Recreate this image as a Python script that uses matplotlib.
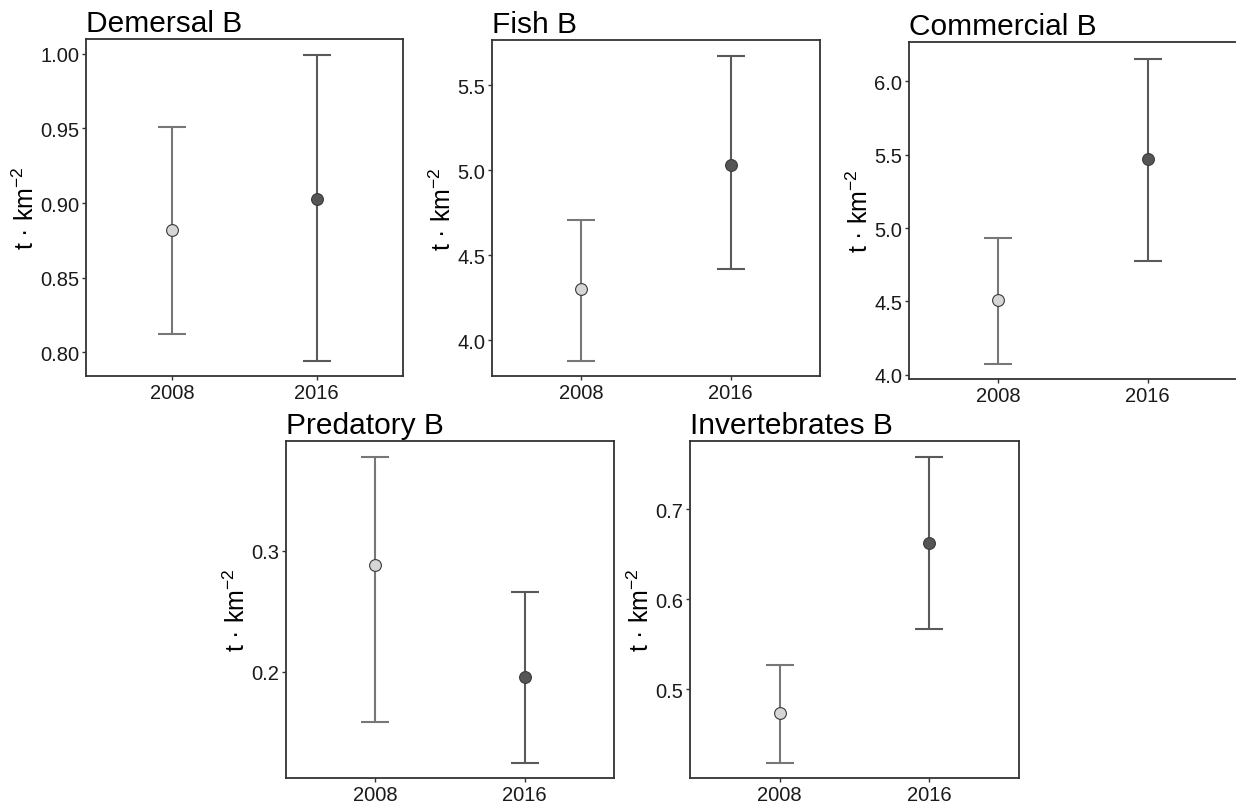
import matplotlib
matplotlib.use('Agg')
import matplotlib.pyplot as plt

plt.rcParams['font.family'] = ['Liberation Sans', 'DejaVu Sans']
plt.rcParams['mathtext.fontset'] = 'custom'
plt.rcParams['mathtext.rm'] = 'Liberation Sans'
plt.rcParams['mathtext.it'] = 'Liberation Sans'

years = ['2008', '2016']

titles = ['Demersal B', 'Fish B', 'Commercial B', 'Predatory B', 'Invertebrates B']

# mean, lower, upper for 2008 and 2016
demersal_mean = [0.882, 0.903]
demersal_low = [0.812, 0.794]
demersal_high = [0.951, 0.999]

fish_mean = [4.30, 5.03]
fish_low = [3.876, 4.416]
fish_high = [4.705, 5.673]

commercial_mean = [4.51, 5.47]
commercial_low = [4.07, 4.778]
commercial_high = [4.93, 6.152]

predatory_mean = [0.288, 0.196]
predatory_low = [0.158, 0.1245]
predatory_high = [0.378, 0.266]

invert_mean = [0.473, 0.662]
invert_low = [0.418, 0.567]
invert_high = [0.527, 0.758]

means = [demersal_mean, fish_mean, commercial_mean, predatory_mean, invert_mean]
lows = [demersal_low, fish_low, commercial_low, predatory_low, invert_low]
highs = [demersal_high, fish_high, commercial_high, predatory_high, invert_high]

yticks = [[0.80, 0.85, 0.90, 0.95, 1.00],
          [4.0, 4.5, 5.0, 5.5],
          [4.0, 4.5, 5.0, 5.5, 6.0],
          [0.2, 0.3],
          [0.5, 0.6, 0.7]]
yfmt = ['%.2f', '%.1f', '%.1f', '%.1f', '%.1f']
ylims = [(0.784, 1.010), (3.788, 5.767), (3.971, 6.268), (0.112, 0.391), (0.401, 0.776)]

# panel boxes in pixels: left, top, right, bottom
W, H = 1236, 803
boxes = [(86, 40, 403, 377),
         (492, 41, 820, 377),
         (909, 43, 1237, 380),
         (286, 442, 614, 779),
         (690, 442, 1019, 779)]

face = ['#d6d6d6', '#555555']
bar_col = ['#777777', '#5a5a5a']

fig = plt.figure(figsize=(12.36, 8.03), dpi=100)

for i in range(5):
    l, t, r, b = boxes[i]
    ax = fig.add_axes([l / W, 1 - b / H, (r - l) / W, (b - t) / H])
    for j in range(2):
        x = j + 1
        m = means[i][j]
        ax.errorbar([x], [m], yerr=[[m - lows[i][j]], [highs[i][j] - m]],
                    fmt='none', ecolor=bar_col[j], elinewidth=1.5,
                    capsize=10, capthick=1.5, zorder=2)
        ax.plot([x], [m], 'o', markersize=8.5, markerfacecolor=face[j],
                markeredgecolor='#3a3a3a', markeredgewidth=0.8, zorder=3)
    ax.set_xlim(0.4, 2.6)
    ax.set_ylim(*ylims[i])
    ax.set_xticks([1, 2])
    ax.set_xticklabels(years)
    ax.set_yticks(yticks[i])
    ax.set_yticklabels([yfmt[i] % v for v in yticks[i]])
    ax.tick_params(labelsize=14.5, colors='#333333', length=3, width=1,
                   pad=2, labelcolor='#1a1a1a')
    for s in ax.spines.values():
        s.set_color('#333333')
        s.set_linewidth(1.3)
    ax.set_ylabel('t · km$^{-2}$', fontsize=18, labelpad=1)
    ax.set_title(titles[i], loc='left', fontsize=21.5, pad=6)

plt.savefig('out.png', dpi=100)
